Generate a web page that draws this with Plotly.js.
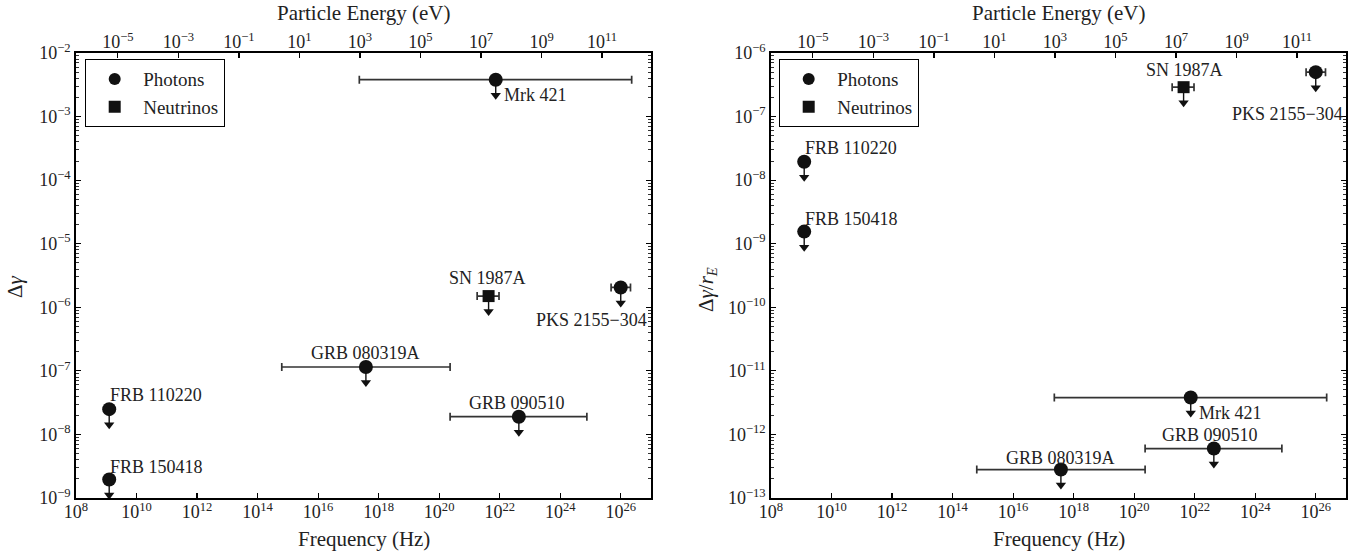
<!DOCTYPE html>
<html>
<head>
<meta charset="utf-8">
<script src="https://cdn.plot.ly/plotly-3.0.1.min.js"></script>
<style>
html,body{margin:0;padding:0;background:#fff;}
#chart{width:1367px;height:552px;}
</style>
</head>
<body>
<div id="chart"></div>
<script>
// ---------------- DATA ----------------
const sources    = ['FRB 110220', 'FRB 150418', 'GRB 080319A', 'GRB 090510', 'Mrk 421', 'PKS 2155\u2212304', 'SN 1987A'];
const messenger  = ['Photons', 'Photons', 'Photons', 'Photons', 'Photons', 'Photons', 'Neutrinos'];
const freqHz     = [1.25e9, 1.25e9, 3.8e17, 4.3e22, 7.4e21, 1.0e26, 4.3e21];
const freqLowHz  = [1.25e9, 1.25e9, 6.3e14, 2.3e20, 2.3e17, 4.8e25, 1.8e21];
const freqHighHz = [1.25e9, 1.25e9, 2.3e20, 7.6e24, 2.3e26, 2.1e26, 9.5e21];
const deltaGamma     = [2.5e-8, 1.95e-9, 1.15e-7, 1.9e-8, 3.8e-3, 2.05e-6, 1.5e-6];   // left panel
const deltaGammaRE   = [1.95e-8, 1.55e-9, 2.8e-13, 6.0e-13, 3.8e-12, 5.0e-7, 2.9e-7]; // right panel
const freqTickExp    = [8, 10, 12, 14, 16, 18, 20, 22, 24, 26];
const energyTickExp  = [-5, -3, -1, 1, 3, 5, 7, 9, 11];

// ---------------- STYLE ----------------
const H_EV_S = 4.135667696e-15;      // Planck constant, eV s (frequency -> energy)
const ARROW_FACTOR = 0.57;           // upper-limit arrow length (multiplicative, log axis)
const FONT = 'Liberation Serif, Times New Roman, serif';
const W = 1367, H = 552;
const FRAME = {left:[76, 651], right:[771, 1346], top:53, bottom:498};

const labelStyleLeft = {
  'FRB 110220':   {xa:'left',   xs:-1,  ys:14},
  'FRB 150418':   {xa:'left',   xs:-1,  ys:13},
  'GRB 080319A':  {xa:'center', xs:0,   ys:14},
  'GRB 090510':   {xa:'center', xs:-2,  ys:14},
  'Mrk 421':      {xa:'left',   xs:6,   ys:-15},
  'PKS 2155\u2212304': {xa:'right', xs:28, ys:-33},
  'SN 1987A':     {xa:'center', xs:-1,  ys:18}
};
const labelStyleRight = {
  'FRB 110220':   {xa:'left',   xs:-1,  ys:14},
  'FRB 150418':   {xa:'left',   xs:-1,  ys:13},
  'GRB 080319A':  {xa:'center', xs:0,   ys:12},
  'GRB 090510':   {xa:'center', xs:-4,  ys:14},
  'Mrk 421':      {xa:'left',   xs:6,   ys:-15},
  'PKS 2155\u2212304': {xa:'right', xs:29, ys:-42},
  'SN 1987A':     {xa:'center', xs:1,   ys:17}
};

function pick(arr, idx){ return idx.map(i => arr[i]); }
const sup = e => '10<sup>' + (e < 0 ? '\u2212' + (-e) : e) + '</sup>';

function panelTraces(yvals, xa, ya, legendId){
  const traces = [];
  const idxAll = sources.map((_, i) => i);
  const yArrow = yvals.map(v => v * ARROW_FACTOR);
  traces.push({
    type:'scatter', mode:'markers', xaxis:xa, yaxis:ya,
    x: freqHz, y: yArrow,
    marker:{symbol:'triangle-down', size:9, color:'#111'},
    error_y:{type:'data', symmetric:false, array: yvals.map((v,i)=> v - yArrow[i]), arrayminus: yvals.map(()=>0), width:0, thickness:1.4, color:'#111'},
    showlegend:false, hoverinfo:'skip'
  });
  ['Photons','Neutrinos'].forEach(kind => {
    const idx = idxAll.filter(i => messenger[i] === kind);
    traces.push({
      type:'scatter', mode:'markers', name: kind, xaxis:xa, yaxis:ya,
      legend: legendId, showlegend: true,
      x: pick(freqHz, idx), y: pick(yvals, idx), text: pick(sources, idx),
      marker:{symbol: kind === 'Photons' ? 'circle' : 'square', size: kind === 'Photons' ? 14 : 12, color:'#111', line:{width:0}},
      error_x:{type:'data', symmetric:false,
        array: idx.map(i => freqHighHz[i] - freqHz[i]),
        arrayminus: idx.map(i => freqHz[i] - freqLowHz[i]),
        width:4, thickness:1.7, color:'#333'},
      hovertemplate:'%{text}<extra></extra>'
    });
  });
  return traces;
}

function panelLabels(yvals, xa, ya, style){
  return sources.map((s, i) => {
    const st = style[s];
    return {
      xref:xa, yref:ya, x: Math.log10(freqHz[i]), y: Math.log10(yvals[i]),
      text: s, showarrow:false, xanchor: st.xa, yanchor:'middle',
      xshift: st.xs, yshift: st.ys,
      font:{family:FONT, size:18, color:'#222'}
    };
  });
}

const freqRange = [8, 27];
const energyRange = freqRange.map(v => v + Math.log10(H_EV_S));

const data = [].concat(
  panelTraces(deltaGamma, 'x', 'y', 'legend'),
  panelTraces(deltaGammaRE, 'x3', 'y2', 'legend2'),
  [{type:'scatter', mode:'markers', xaxis:'x2', yaxis:'y', x:[1e-5, 1e11], y:[1e-5, 1e-5], marker:{opacity:0}, showlegend:false, hoverinfo:'skip'},
   {type:'scatter', mode:'markers', xaxis:'x4', yaxis:'y2', x:[1e-5, 1e11], y:[1e-9, 1e-9], marker:{opacity:0}, showlegend:false, hoverinfo:'skip'}]
);

const px = v => v / W;
const py = v => 1 - v / H;

const tickFont = {family:FONT, size:18, color:'#222'};
function freqAxis(domain, anchor){
  return {
    type:'log', range: freqRange, domain: domain, anchor: anchor,
    tickmode:'array', tickvals: freqTickExp.map(e => Math.pow(10, e)), ticktext: freqTickExp.map(sup),
    ticks:'inside', ticklen:5, tickwidth:1.2, tickcolor:'#000', ticklabelstandoff:-3,
    showline:true, linecolor:'#000', linewidth:1.8, mirror:true,
    showgrid:false, zeroline:false, tickfont: tickFont, automargin:false
  };
}
function energyAxis(overlay, anchor){
  return {
    type:'log', range: energyRange, overlaying: overlay, anchor: anchor, side:'top',
    tickmode:'array', tickvals: energyTickExp.map(e => Math.pow(10, e)), ticktext: energyTickExp.map(sup),
    ticks:'inside', ticklen:5, tickwidth:1.2, tickcolor:'#000',
    showline:false, showgrid:false, zeroline:false, tickfont: tickFont, automargin:false
  };
}
function valAxis(range, anchor){
  const exps = [], minorVals = [];
  for (let e = range[0]; e <= range[1]; e++) exps.push(e);
  for (let e = range[0]; e < range[1]; e++) for (let m = 2; m <= 9; m++) minorVals.push(m * Math.pow(10, e));
  return {
    type:'log', range: range, domain:[py(FRAME.bottom), py(FRAME.top)], anchor: anchor,
    tickmode:'array', tickvals: exps.map(e => Math.pow(10, e)), ticktext: exps.map(sup),
    ticks:'inside', ticklen:5, tickwidth:1.2, tickcolor:'#000',
    minor:{tickmode:'array', tickvals: minorVals, ticks:'inside', ticklen:3, tickwidth:0.8, tickcolor:'#000', showgrid:false},
    showline:true, linecolor:'#000', linewidth:1.8, mirror:'ticks',
    showgrid:false, zeroline:false, tickfont: tickFont, automargin:false
  };
}

const titleFont = {family:FONT, size:21, color:'#222'};
const annotations = [].concat(
  panelLabels(deltaGamma, 'x', 'y', labelStyleLeft),
  panelLabels(deltaGammaRE, 'x3', 'y2', labelStyleRight),
  [
    {xref:'paper', yref:'paper', x:px(364), y:py(539), text:'Frequency (Hz)', showarrow:false, xanchor:'center', yanchor:'middle', font:titleFont},
    {xref:'paper', yref:'paper', x:px(1059), y:py(539), text:'Frequency (Hz)', showarrow:false, xanchor:'center', yanchor:'middle', font:titleFont},
    {xref:'paper', yref:'paper', x:px(363), y:py(13), text:'Particle Energy (eV)', showarrow:false, xanchor:'center', yanchor:'middle', font:titleFont},
    {xref:'paper', yref:'paper', x:px(1058), y:py(13), text:'Particle Energy (eV)', showarrow:false, xanchor:'center', yanchor:'middle', font:titleFont},
    {xref:'paper', yref:'paper', x:px(15), y:py(287), text:'\u0394<i>\u03b3</i>', textangle:-90, showarrow:false, xanchor:'center', yanchor:'middle', font:titleFont},
    {xref:'paper', yref:'paper', x:px(707), y:py(290), text:'\u0394<i>\u03b3</i>/<i>r</i><sub><i>E</i></sub>', textangle:-90, showarrow:false, xanchor:'center', yanchor:'middle', font:titleFont}
  ]
);

const legendBase = {
  yanchor:'top', xanchor:'left', y: py(59),
  bgcolor:'#fff', bordercolor:'#000', borderwidth:1.2, itemwidth:47,
  font:{family:FONT, size:19, color:'#222'}, itemsizing:'constant', tracegroupgap:0
};

const layout = {
  width: W, height: H,
  margin:{l:0, r:0, t:0, b:0},
  paper_bgcolor:'#fff', plot_bgcolor:'#fff',
  showlegend:true,
  xaxis: freqAxis([px(FRAME.left[0]), px(FRAME.left[1])], 'y'),
  xaxis2: energyAxis('x', 'y'),
  xaxis3: freqAxis([px(FRAME.right[0]), px(FRAME.right[1])], 'y2'),
  xaxis4: energyAxis('x3', 'y2'),
  yaxis: valAxis([-9, -2], 'x'),
  yaxis2: valAxis([-13, -6], 'x3'),
  legend: Object.assign({}, legendBase, {x: px(85)}),
  legend2: Object.assign({}, legendBase, {x: px(779)}),
  annotations: annotations
};

Plotly.newPlot('chart', data, layout, {displayModeBar:false, staticPlot:true});
</script>
</body>
</html>
